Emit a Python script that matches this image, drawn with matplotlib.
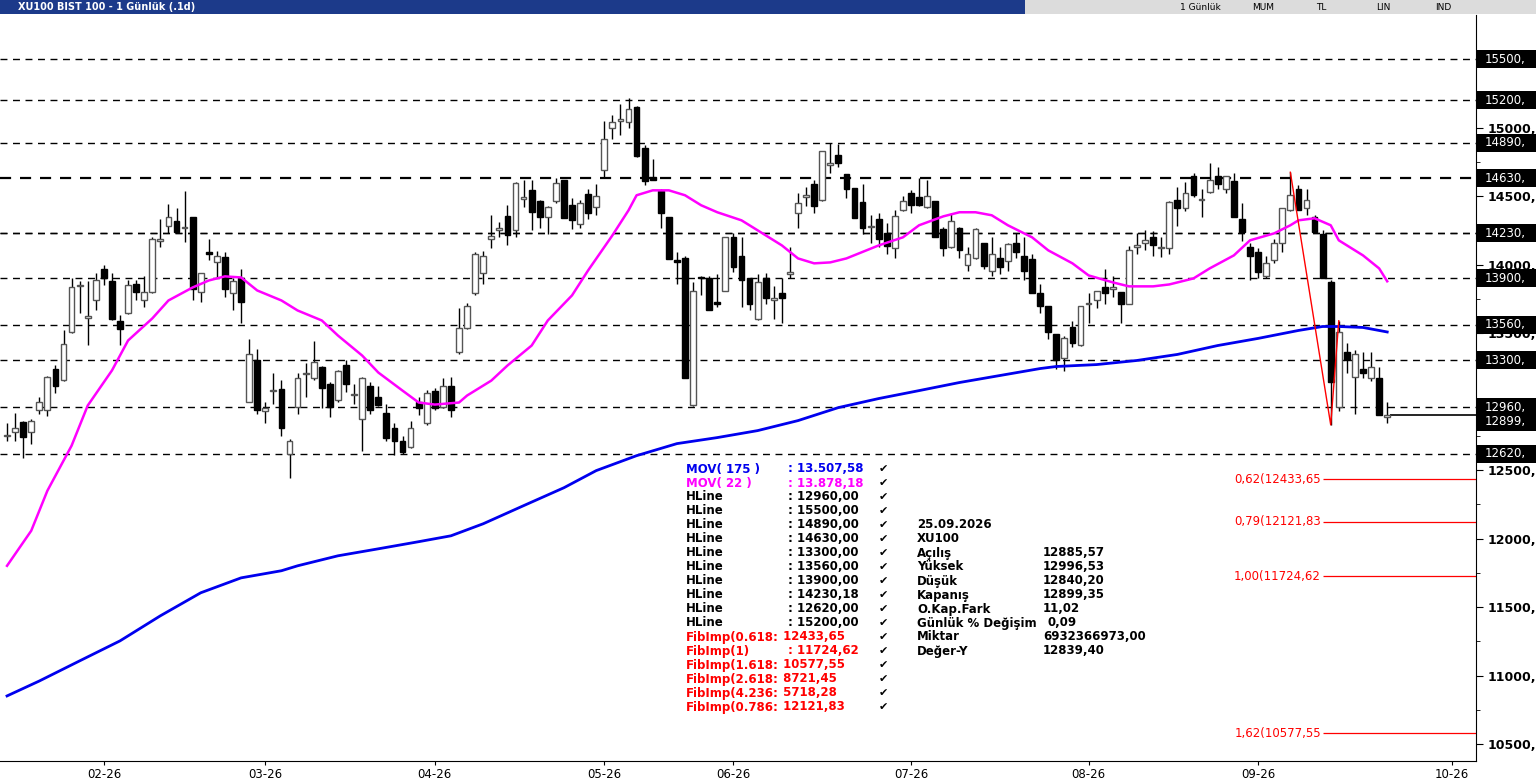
import matplotlib
matplotlib.use("Agg")
import matplotlib.pyplot as plt
from matplotlib.patches import Rectangle
import matplotlib.transforms as mtransforms

plt.rcParams['font.family'] = ['DejaVu Sans']

opens = [12750,12775,12850,12780,12935,12940,13235,13160,13510,13840,13610,13740,13970,13880,13590,13650,13860,13745,13800,14175,
14280,14320,14265,14345,13800,14095,14020,14055,13790,13905,13000,13305,12930,13075,13090,12620,12960,13200,13170,13255,
13125,13015,13270,13045,12870,13110,13035,12920,12810,12715,12665,13000,12845,13080,12960,13115,13360,13540,13790,13935,
14185,14255,14355,14250,14480,14545,14465,14345,14465,14615,14435,14295,14515,14420,14690,15000,15045,15040,15150,14850,
14640,14535,14345,14030,14045,12975,13905,13905,13725,13810,14200,14065,13900,13600,13900,13745,13790,13930,14375,14495,
14590,14470,14725,14800,14660,14560,14455,14275,14330,14230,14120,14395,14520,14490,14420,14465,14260,14125,14270,14000,
14045,14155,13955,14045,14025,14160,14060,14040,13790,13700,13495,13320,13545,13410,13710,13740,13835,13825,13800,13715,
14130,14155,14200,14120,14120,14475,14410,14645,14470,14530,14650,14555,14610,14330,14125,14090,13920,14030,14160,14395,
14555,14410,14345,14225,13870,12960,13360,13180,13240,13170,13175,12885.57]
highs = [12840,12920,12855,12870,13035,13190,13270,13520,13905,13880,13880,13940,13995,13940,13630,13890,13890,13920,14200,14330,
14440,14410,14535,14350,13940,14190,14100,14090,13900,13970,13460,13385,13000,13210,13160,12730,13210,13280,13445,13260,
13145,13230,13305,13130,13180,13145,13110,12985,12840,12750,12860,13035,13085,13100,13175,13180,13685,13720,14090,14100,
14360,14310,14435,14600,14615,14620,14470,14425,14630,14615,14485,14475,14550,14585,15045,15090,15170,15215,15155,14870,
14770,14555,14345,14090,14065,13870,13920,13920,13930,14200,14230,14200,13905,13930,13935,13840,13900,14125,14520,14570,
14615,14830,14885,14880,14660,14560,14590,14360,14375,14300,14395,14500,14545,14635,14615,14465,14275,14380,14275,14125,
14265,14160,14200,14125,14155,14230,14200,14080,13860,13700,13495,13480,13590,13700,13795,13810,13970,13915,13800,14135,
14230,14250,14245,14200,14465,14565,14600,14665,14550,14740,14710,14650,14665,14450,14155,14120,14065,14185,14415,14675,
14580,14550,14360,14255,13885,13585,13430,13375,13360,13360,13250,12996.53]
lows = [12710,12715,12590,12690,12910,12895,13060,13150,13500,13650,13410,13665,13850,13595,13415,13640,13740,13690,13790,14125,
14230,14230,14165,13740,13725,14030,13905,13760,13665,13570,12995,12910,12840,12985,12750,12445,12910,13030,13160,12955,
12885,13000,13070,12985,12640,12910,12970,12710,12610,12620,12660,12905,12830,12940,12955,12885,13350,13530,13775,13860,
14120,14200,14140,14200,14420,14250,14265,14220,14450,14340,14260,14265,14330,14365,14640,14920,14945,15000,14785,14580,
14615,14270,14040,13860,13170,12970,13775,13665,13690,13805,13945,13690,13665,13595,13715,13605,13570,13900,14265,14425,
14380,14465,14665,14710,14485,14340,14225,14160,14125,14075,14045,14390,14380,14430,14415,14200,14065,14120,14045,13955,
14040,13970,13915,13930,13955,14045,13885,13790,13645,13460,13235,13220,13395,13405,13570,13680,13715,13760,13570,13715,
14080,14110,14060,14055,14080,14285,14390,14490,14350,14525,14555,14520,14345,14175,13890,13900,13905,14010,14090,14390,
14400,14360,14240,13905,12830,12930,13210,12910,13175,13150,12900,12840.20]
closes = [12755,12810,12740,12860,13000,13180,13115,13420,13835,13845,13625,13885,13905,13600,13530,13850,13800,13800,14190,14185,
14345,14235,14275,13820,13935,14075,14060,13820,13880,13725,13350,12940,12950,13085,12805,12710,13170,13210,13290,13100,
12960,13225,13125,13055,13175,12940,12975,12735,12710,12635,12805,12950,13060,12950,13115,12935,13540,13695,14080,14060,
14205,14265,14215,14595,14495,14385,14345,14420,14595,14340,14325,14450,14375,14500,14920,15040,15060,15135,14790,14610,
14620,14375,14040,14020,13175,13810,13900,13670,13715,14200,13980,13885,13710,13870,13755,13750,13755,13945,14450,14505,
14425,14830,14740,14740,14550,14340,14270,14285,14190,14135,14355,14465,14435,14435,14500,14200,14120,14320,14105,14080,
14260,13990,14075,13980,14150,14090,13955,13790,13695,13510,13305,13465,13425,13695,13720,13805,13790,13835,13715,14110,
14140,14180,14140,14130,14460,14410,14520,14510,14480,14615,14585,14645,14345,14235,14060,13945,14015,14155,14410,14510,
14400,14475,14240,13905,13140,13510,13300,13345,13210,13255,12900,12899.35]

ma22_idx = [0,3,5,8,10,13,15,18,20,23,25,27,29,31,34,36,39,41,44,46,49,51,53,56,57,60,62,65,67,70,72,75,77,78,80,82,84,86,88,91,93,96,98,100,102,104,108,111,113,116,118,120,122,124,127,129,132,134,137,139,142,144,147,149,152,154,157,159,160,162,164,165,168,170,171]
ma22_val = [11801,12057,12349,12678,12971,13227,13446,13607,13738,13833,13884,13914,13906,13811,13738,13665,13592,13482,13336,13212,13080,12993,12978,12993,13044,13153,13263,13409,13592,13775,13958,14213,14396,14506,14542,14542,14506,14433,14382,14323,14250,14140,14045,14009,14016,14045,14140,14199,14287,14352,14382,14382,14360,14287,14199,14104,14009,13921,13870,13841,13841,13855,13899,13972,14067,14177,14228,14287,14323,14338,14287,14177,14067,13972,13878]
ma175_idx = [0,4,9,14,19,24,29,34,36,41,46,51,55,59,64,69,73,78,83,88,93,98,103,108,113,118,123,128,130,135,140,145,150,155,160,163,165,168,171]
ma175_val = [10851,10960,11107,11253,11436,11604,11713,11765,11801,11874,11925,11977,12020,12108,12240,12371,12496,12605,12693,12737,12788,12861,12956,13022,13080,13139,13190,13241,13256,13270,13300,13344,13409,13461,13519,13548,13548,13541,13508]

hlines = [12960,15500,14890,14630,14230,13300,13560,13900,14230.18,12620,15200]
fib_idx = [159,164,165]
fib_val = [14674,12830,13590]
fib_levels = ["0,62", "0,79", "1,00", "1,62"]
fib_values = [12433.65, 12121.83, 11724.62, 10577.55]
month_idx = [12,32,53,74,90,112,134,155,179]
month_lab = ["02-26","03-26","04-26","05-26","06-26","07-26","08-26","09-26","10-26"]
yticks = [10500,11000,11500,12000,12500,13000,13500,14000,14500,15000]

W, H = 1536, 779
fig = plt.figure(figsize=(W/100, H/100), dpi=100)
ax = fig.add_axes([0, (779-761)/779, 1476/1536, (761-15)/779])
ax.set_xlim(-0.87, 182.0)
ax.set_ylim(10376, 15822)

for y in hlines:
    lw = 1.6 if abs(y-14630) < 1 else 1.0
    ax.axhline(y, color='black', ls=(0, (5, 4)), lw=lw, zorder=1)

x = list(range(len(closes)))
ax.vlines(x, lows, highs, color='black', lw=1, zorder=3)
for i in x:
    o, c = opens[i], closes[i]
    bottom = min(o, c); h = max(abs(c-o), 8)
    if c >= o:
        ax.add_patch(Rectangle((i-0.36, bottom), 0.72, h, facecolor='white', edgecolor='#555555', lw=1, zorder=4))
    else:
        ax.add_patch(Rectangle((i-0.36, bottom), 0.72, h, facecolor='black', edgecolor='black', lw=1, zorder=4))

ax.plot(ma22_idx, ma22_val, color='#ff00ff', lw=1.8, zorder=5)
ax.plot(ma175_idx, ma175_val, color='#0000ee', lw=2.0, zorder=5)
ax.plot(fib_idx, fib_val, color='red', lw=1.0, zorder=6)
ax.hlines(closes[-1], 171.3, 182.0, color='black', lw=1.2, zorder=2)

for lab, v in zip(fib_levels, fib_values):
    s = f"{v:.2f}".replace(".", ",")
    ax.hlines(v, 163.1, 182.0, color='red', lw=0.9)
    ax.text(162.8, v, f"{lab}({s}", color='red', ha='right', va='center', fontsize=8.5)

# right axis
ax.yaxis.tick_right()
ax.set_yticks(yticks)
ax.set_yticklabels([f"{t},00" for t in yticks], fontsize=9, fontweight='bold')
ax.set_yticks([v + 250 for v in yticks], minor=True)
ax.tick_params(axis='y', which='major', length=5, pad=3)
ax.tick_params(axis='y', which='minor', length=3)
ax.set_xticks(month_idx)
ax.set_xticklabels(month_lab, fontsize=8.5)
ax.tick_params(axis='x', length=3, pad=2)
for s in ['top', 'left']:
    ax.spines[s].set_visible(False)

tr = mtransforms.blended_transform_factory(ax.transAxes, ax.transData)
bh = (ax.get_ylim()[1]-ax.get_ylim()[0]) * 18/746
bw = 60/1476
def label_box(y, txt, z):
    ax.add_patch(Rectangle((1.0007, y - bh/2), bw, bh, transform=tr, facecolor='black', edgecolor='none',
                           clip_on=False, zorder=z))
    ax.text(1.0007 + 8/1476, y, txt, transform=tr, ha='left', va='center', fontsize=8.5, color='white',
            clip_on=False, zorder=z+0.5)
label_box(closes[-1] - 45, "12899,", 7)
for y in sorted(set(int(round(v)) for v in hlines)):
    label_box(y, f"{y},", 8)

# title bar
fig.patches.append(Rectangle((0, 1-14/779), 1025/1536, 14/779, transform=fig.transFigure, facecolor='#1c3a8a', edgecolor='none'))
fig.patches.append(Rectangle((1025/1536, 1-14/779), 511/1536, 14/779, transform=fig.transFigure, facecolor='#dcdcdc', edgecolor='none'))
fig.text(18/W, 1-7/H, "XU100 BIST 100 - 1 Günlük (.1d)", color='white', fontsize=7, fontweight='bold', va='center')
for xx, t in [(1180, "1 Günlük"), (1252, "MUM"), (1316, "TL"), (1376, "LIN"), (1435, "IND")]:
    fig.text(xx/W, 1-7/H, t, color='black', fontsize=6.5, va='center')

# info box
names = ["MOV( 175 )", "MOV( 22 )"] + ["HLine"]*10 + ["FibImp(0.618:", "FibImp(1)", "FibImp(1.618:", "FibImp(2.618:", "FibImp(4.236:", "FibImp(0.786:"]
vals = [": 13.507,58", ": 13.878,18"] + [": 12960,00", ": 15500,00", ": 14890,00", ": 14630,00", ": 13300,00", ": 13560,00", ": 13900,00", ": 14230,18", ": 12620,00", ": 15200,00"] \
       + [" 12433,65", ": 11724,62", " 10577,55", " 8721,45", " 5718,28", " 12121,83"]
cols = ['#0000ee', '#ff00ff'] + ['black']*10 + ['red']*6
for k, (n, v, c) in enumerate(zip(names, vals, cols)):
    yy = 1 - (469 + 14*k)/H
    fig.text(686/W, yy, n, color=c, fontsize=8.5, fontweight='bold', va='center')
    fig.text((788 if v.startswith(':') else 779)/W, yy, v, color=c, fontsize=8.5, fontweight='bold', va='center')
    fig.text(879/W, yy, "✔", color='black', fontsize=8, va='center')

info_l = ["25.09.2026", "XU100", "Açılış", "Yüksek", "Düşük", "Kapanış", "O.Kap.Fark", "Günlük % Değişim", "Miktar", "Değer-Y"]
info_r = ["", "", "12885,57", "12996,53", "12840,20", "12899,35", "11,02", "0,09", "6932366973,00", "12839,40"]
for k, (a, b) in enumerate(zip(info_l, info_r)):
    yy = 1 - (525 + 14*k)/H
    fig.text(917/W, yy, a, color='black', fontsize=8.5, fontweight='bold', va='center')
    fig.text((1043 if k != 7 else 1047)/W, yy, b, color='black', fontsize=8.5, fontweight='bold', va='center')

fig.savefig("out.png", dpi=100)
